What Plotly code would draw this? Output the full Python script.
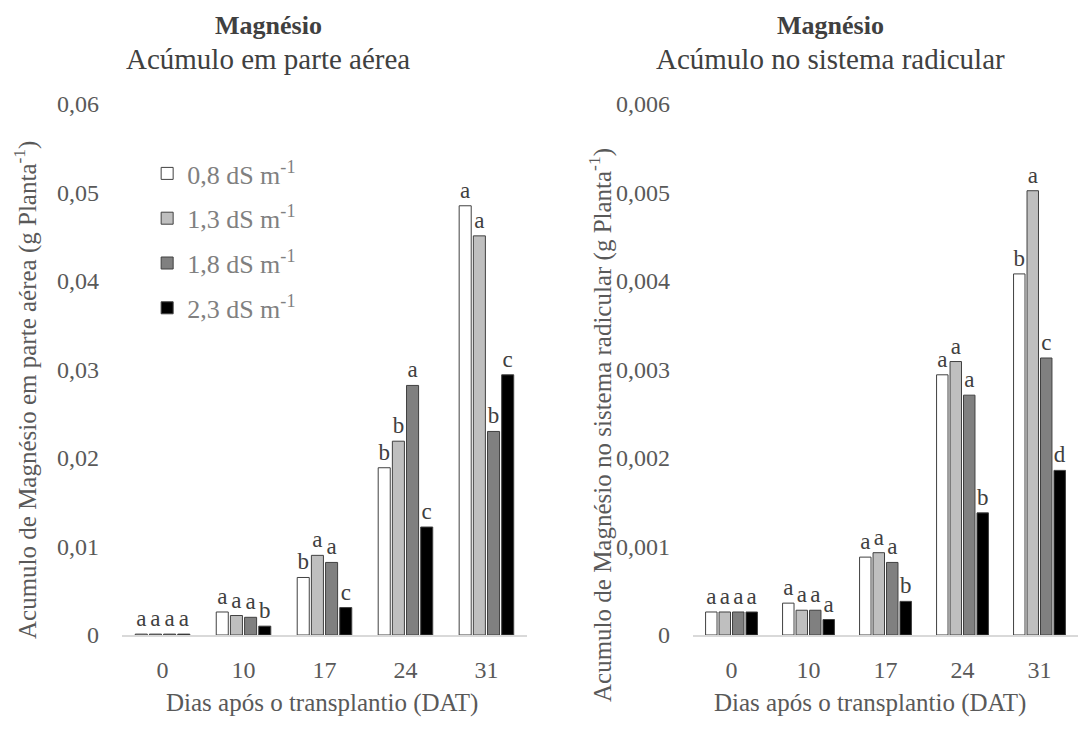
import plotly.graph_objects as go

dias = ["0", "10", "17", "24", "31"]
series = ["0,8 dS m<sup>-1</sup>", "1,3 dS m<sup>-1</sup>", "1,8 dS m<sup>-1</sup>", "2,3 dS m<sup>-1</sup>"]
fills = ["#FFFFFF", "#BFBFBF", "#808080", "#000000"]

# Parte aérea (g planta-1)
aerea_08 = [0.0001, 0.0026, 0.0065, 0.0189, 0.0485]
aerea_13 = [0.0001, 0.0022, 0.0090, 0.0219, 0.0451]
aerea_18 = [0.0001, 0.0020, 0.0082, 0.0282, 0.0230]
aerea_23 = [0.0001, 0.0010, 0.0031, 0.0122, 0.0294]
letras_aerea_08 = ["a", "a", "b", "b", "a"]
letras_aerea_13 = ["a", "a", "a", "b", "a"]
letras_aerea_18 = ["a", "a", "a", "a", "b"]
letras_aerea_23 = ["a", "b", "c", "c", "c"]

# Sistema radicular (g planta-1)
raiz_08 = [0.00026, 0.00036, 0.00088, 0.00294, 0.00408]
raiz_13 = [0.00026, 0.00028, 0.00093, 0.00309, 0.00502]
raiz_18 = [0.00026, 0.00028, 0.00082, 0.00271, 0.00313]
raiz_23 = [0.00026, 0.000175, 0.00038, 0.00138, 0.00186]
letras_raiz_08 = ["a", "a", "a", "a", "b"]
letras_raiz_13 = ["a", "a", "a", "a", "a"]
letras_raiz_18 = ["a", "a", "a", "a", "c"]
letras_raiz_23 = ["a", "a", "b", "b", "d"]

ticks_aerea = [0, 0.01, 0.02, 0.03, 0.04, 0.05, 0.06]
ticktext_aerea = ["0", "0,01", "0,02", "0,03", "0,04", "0,05", "0,06"]
ticks_raiz = [0, 0.001, 0.002, 0.003, 0.004, 0.005, 0.006]
ticktext_raiz = ["0", "0,001", "0,002", "0,003", "0,004", "0,005", "0,006"]

FONT = "Liberation Serif"
TXT = "#404040"
TOP, BOT = 104, 635


def py(ypx):
    return (BOT - ypx) / (BOT - TOP)


fig = go.Figure()

aerea = [aerea_08, aerea_13, aerea_18, aerea_23]
letras_a = [letras_aerea_08, letras_aerea_13, letras_aerea_18, letras_aerea_23]
raiz = [raiz_08, raiz_13, raiz_18, raiz_23]
letras_r = [letras_raiz_08, letras_raiz_13, letras_raiz_18, letras_raiz_23]

for i in range(4):
    fig.add_trace(go.Bar(
        x=dias, y=aerea[i], name=series[i], text=letras_a[i],
        textposition="outside", constraintext="none", cliponaxis=False,
        textfont=dict(family=FONT, size=23, color=TXT),
        marker=dict(color=fills[i], line=dict(color="#404040", width=1)),
        xaxis="x", yaxis="y", legendgroup="g%d" % i, showlegend=True,
    ))
for i in range(4):
    fig.add_trace(go.Bar(
        x=dias, y=raiz[i], name=series[i], text=letras_r[i],
        textposition="outside", constraintext="none", cliponaxis=False,
        textfont=dict(family=FONT, size=23, color=TXT),
        marker=dict(color=fills[i], line=dict(color="#404040", width=1)),
        xaxis="x2", yaxis="y2", legendgroup="g%d" % i, showlegend=False,
    ))

xcommon = dict(type="category", showgrid=False, showline=True, linecolor="#D9D9D9",
               linewidth=1.5, ticks="", ticklabelstandoff=12,
               tickfont=dict(family=FONT, size=24, color="#595959"))
ycommon = dict(showgrid=False, showline=False, zeroline=False, ticks="",
               ticklabelstandoff=22,
               tickfont=dict(family=FONT, size=24, color="#595959"))

fig.update_layout(
    width=1082, height=736,
    margin=dict(l=0, r=0, t=TOP, b=736 - BOT),
    paper_bgcolor="white", plot_bgcolor="white",
    barmode="group", bargap=0.3, bargroupgap=0.15,
    font=dict(family=FONT, color=TXT),
    xaxis=dict(domain=[0.1128, 0.487], anchor="y", **xcommon),
    yaxis=dict(range=[0, 0.06], tickvals=ticks_aerea, ticktext=ticktext_aerea,
               anchor="x", **ycommon),
    xaxis2=dict(domain=[0.6405, 0.9963], anchor="y2", **xcommon),
    yaxis2=dict(range=[0, 0.006], tickvals=ticks_raiz, ticktext=ticktext_raiz,
                anchor="x2", **ycommon),
    legend=dict(x=0.136, y=py(150), xanchor="left", yanchor="top",
                font=dict(family=FONT, size=26, color="#808080"),
                bgcolor="rgba(0,0,0,0)", tracegroupgap=8, itemwidth=30),
    showlegend=True,
)

annots = [
    dict(text="<b>Magnésio</b>", x=268, y=25, s=26),
    dict(text="Acúmulo em parte aérea", x=268, y=59, s=29),
    dict(text="<b>Magnésio</b>", x=830, y=25, s=26),
    dict(text="Acúmulo no sistema radicular", x=830, y=59, s=29),
]
for a in annots:
    fig.add_annotation(text=a["text"], x=a["x"] / 1082, y=py(a["y"]),
                       xref="paper", yref="paper", showarrow=False,
                       xanchor="center", yanchor="middle",
                       font=dict(family=FONT, size=a["s"], color=TXT))

fig.add_annotation(text="Acumulo de Magnésio em parte aérea (g Planta<sup>-1</sup>)",
                   x=25 / 1082, y=py(390), xref="paper", yref="paper",
                   showarrow=False, textangle=-90, xanchor="center", yanchor="middle",
                   font=dict(family=FONT, size=25, color="#595959"))
fig.add_annotation(text="Acumulo de Magnésio no sistema radicular (g Planta<sup>-1</sup>)",
                   x=600 / 1082, y=py(425), xref="paper", yref="paper",
                   showarrow=False, textangle=-90, xanchor="center", yanchor="middle",
                   font=dict(family=FONT, size=25, color="#595959"))
fig.add_annotation(text="Dias após o transplantio (DAT)",
                   x=322 / 1082, y=py(703), xref="paper", yref="paper",
                   showarrow=False, xanchor="center", yanchor="middle",
                   font=dict(family=FONT, size=25, color="#595959"))
fig.add_annotation(text="Dias após o transplantio (DAT)",
                   x=870 / 1082, y=py(703), xref="paper", yref="paper",
                   showarrow=False, xanchor="center", yanchor="middle",
                   font=dict(family=FONT, size=25, color="#595959"))

fig.write_html("out.html")
